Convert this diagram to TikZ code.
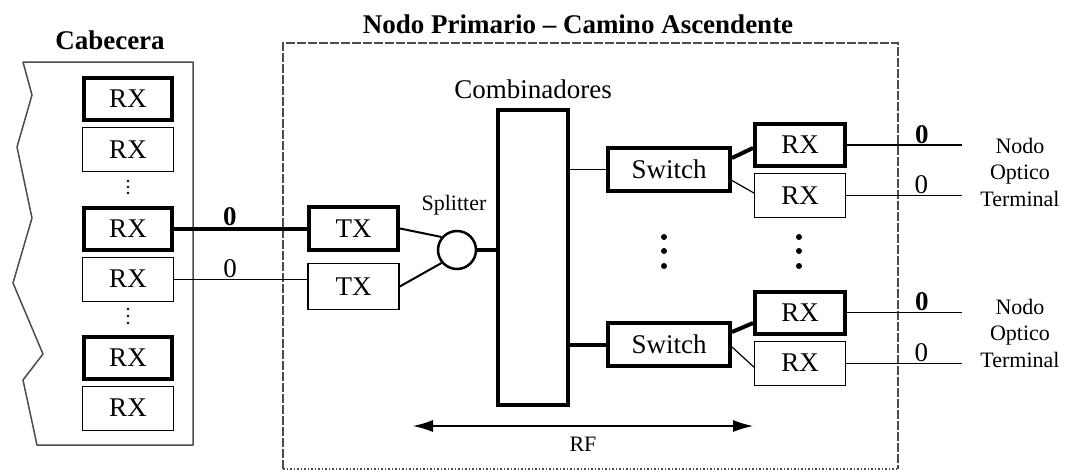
\documentclass[tikz,border=0pt]{standalone}
\usepackage{fontspec}
\setmainfont{Liberation Serif}
\usetikzlibrary{positioning,arrows.meta}
\newcommand{\bigtext}{\fontsize{27}{31}\selectfont}
\newcommand{\smalltext}{\fontsize{22}{26.5}\selectfont}

\begin{document}
\begin{tikzpicture}[x=1pt, y=-1pt, >={Latex[length=20pt,width=12pt]}, node distance=5pt,
    thickbox/.style={rectangle, draw, line width=4pt, inner sep=0pt, minimum width=88pt, minimum height=42pt, font=\bigtext},
    thinbox/.style={rectangle, draw, line width=1.2pt, inner sep=0pt, minimum width=91pt, minimum height=44pt, font=\bigtext},
    frame/.style={draw=black!70, line width=1.5pt},
    fat/.style={line width=4pt},
    mid/.style={line width=2pt},
    slim/.style={line width=1.2pt},
    zerolabel/.style={above, inner sep=1pt, font=\bigtext}]

\useasboundingbox (0,0) rectangle (1066,471);

\draw[frame, line join=round] (23,62) -- (193,62) -- (193,445) -- (37,445) -- (23,380) -- (43,354)
  -- (13,283) -- (32,218) -- (17,147) -- (32,95) -- cycle;
\node[font=\bigtext\bfseries] (cab) at (110,40) {Cabecera};

\node[thickbox] (rx1) at (128,99) {RX};
\node[thinbox] (rx2) [below=of rx1] {RX};
\node[thickbox] (rx3) at (128,228.5) {RX};
\node[thinbox] (rx4) [below=of rx3] {RX};
\node[thickbox] (rx5) at (128,357.5) {RX};
\node[thinbox] (rx6) [below=of rx5] {RX};
\foreach \y in {181,187,193,309,316,323}
  \fill (128,\y) circle (1.3pt);

\draw[frame, dash pattern=on 9pt off 2pt] (283,469) -- (283,43) -- (898,43) -- (898,469);
\draw[frame, dotted] (283,469) -- (898,469);
\node[font=\bigtext\bfseries] (title) at (578,24) {Nodo Primario – Camino Ascendente};

\node[thickbox, minimum width=89pt, minimum height=43pt] (tx1) at (353.5,228.5) {TX};
\node[thinbox, minimum height=46pt] (tx2) [below=11pt of tx1] {TX};
\node[circle, draw, line width=2.5pt, minimum size=38pt, inner sep=0pt] (split) at (457,250) {};
\node[font=\smalltext] (splitlbl) at (454,205) {Splitter};
\node[thickbox, minimum width=70pt, minimum height=295pt] (comb) at (533,257.5) {};
\node[font=\bigtext, above=6pt of comb] (comblbl) {Combinadores};
\node[thickbox, minimum width=122pt, minimum height=43pt] (sw1) at (669,169.5) {Switch};
\node[thickbox, minimum width=122pt, minimum height=43pt] (sw2) at (669,344.5) {Switch};
\foreach \y in {237,251,266} {
  \fill (664,\y) circle (3pt);
  \fill (799,\y) circle (3pt);
}

\node[thickbox, minimum width=90pt] (rxa) at (800,145) {RX};
\node[thinbox] (rxb) [below=of rxa] {RX};
\node[thickbox, minimum width=90pt] (rxc) at (800,312.5) {RX};
\node[thinbox] (rxd) [below=of rxc] {RX};
\node[font=\smalltext, align=center] (nota) at (1020,172) {Nodo\\Optico\\Terminal};
\node[font=\smalltext, align=center] (notb) at (1020,333) {Nodo\\Optico\\Terminal};

\coordinate (tend) at (962,0);
\coordinate (rfl) at (413,426);
\coordinate (rfr) at (753,426);

\draw[fat] (rx3.east) -- node[zerolabel, pos=0.42] {\bfseries 0} (tx1.west);
\draw[slim] (rx4.east) -- node[zerolabel, pos=0.42] {0} (rx4.east -| tx2.west);
\draw[mid] (tx1.east) -- (split.140);
\draw[mid] (tx2.east) -- (split.-140);
\draw[fat] (split.east) -- (split.east -| comb.west);
\draw[slim] (sw1.west -| comb.east) -- (sw1.west);
\draw[fat] (sw2.west -| comb.east) -- (sw2.west);
\draw[fat] ([yshift=11.5pt]sw1.east) -- ([yshift=-3pt]rxa.west);
\draw[slim] ([yshift=-11pt]sw1.east) -- ([yshift=2.6pt]rxb.west);
\draw[fat] ([yshift=12.5pt]sw2.east) -- ([yshift=-10.5pt]rxc.west);
\draw[slim] ([yshift=-2.5pt]sw2.east) -- ([yshift=-4pt]rxd.west);
\draw[slim] (rxa.east) -- node[zerolabel, pos=0.65] {\bfseries 0} (rxa.east -| tend);
\draw[slim] (rxb.east) -- node[zerolabel, pos=0.65] {0} (rxb.east -| tend);
\draw[slim] (rxc.east) -- node[zerolabel, pos=0.65] {\bfseries 0} (rxc.east -| tend);
\draw[slim] (rxd.east) -- node[zerolabel, pos=0.65] {0} (rxd.east -| tend);
\draw[slim, <->] (rfl) -- node[below=7pt, font=\smalltext] (rf) {RF} (rfr);
\end{tikzpicture}
\end{document}
